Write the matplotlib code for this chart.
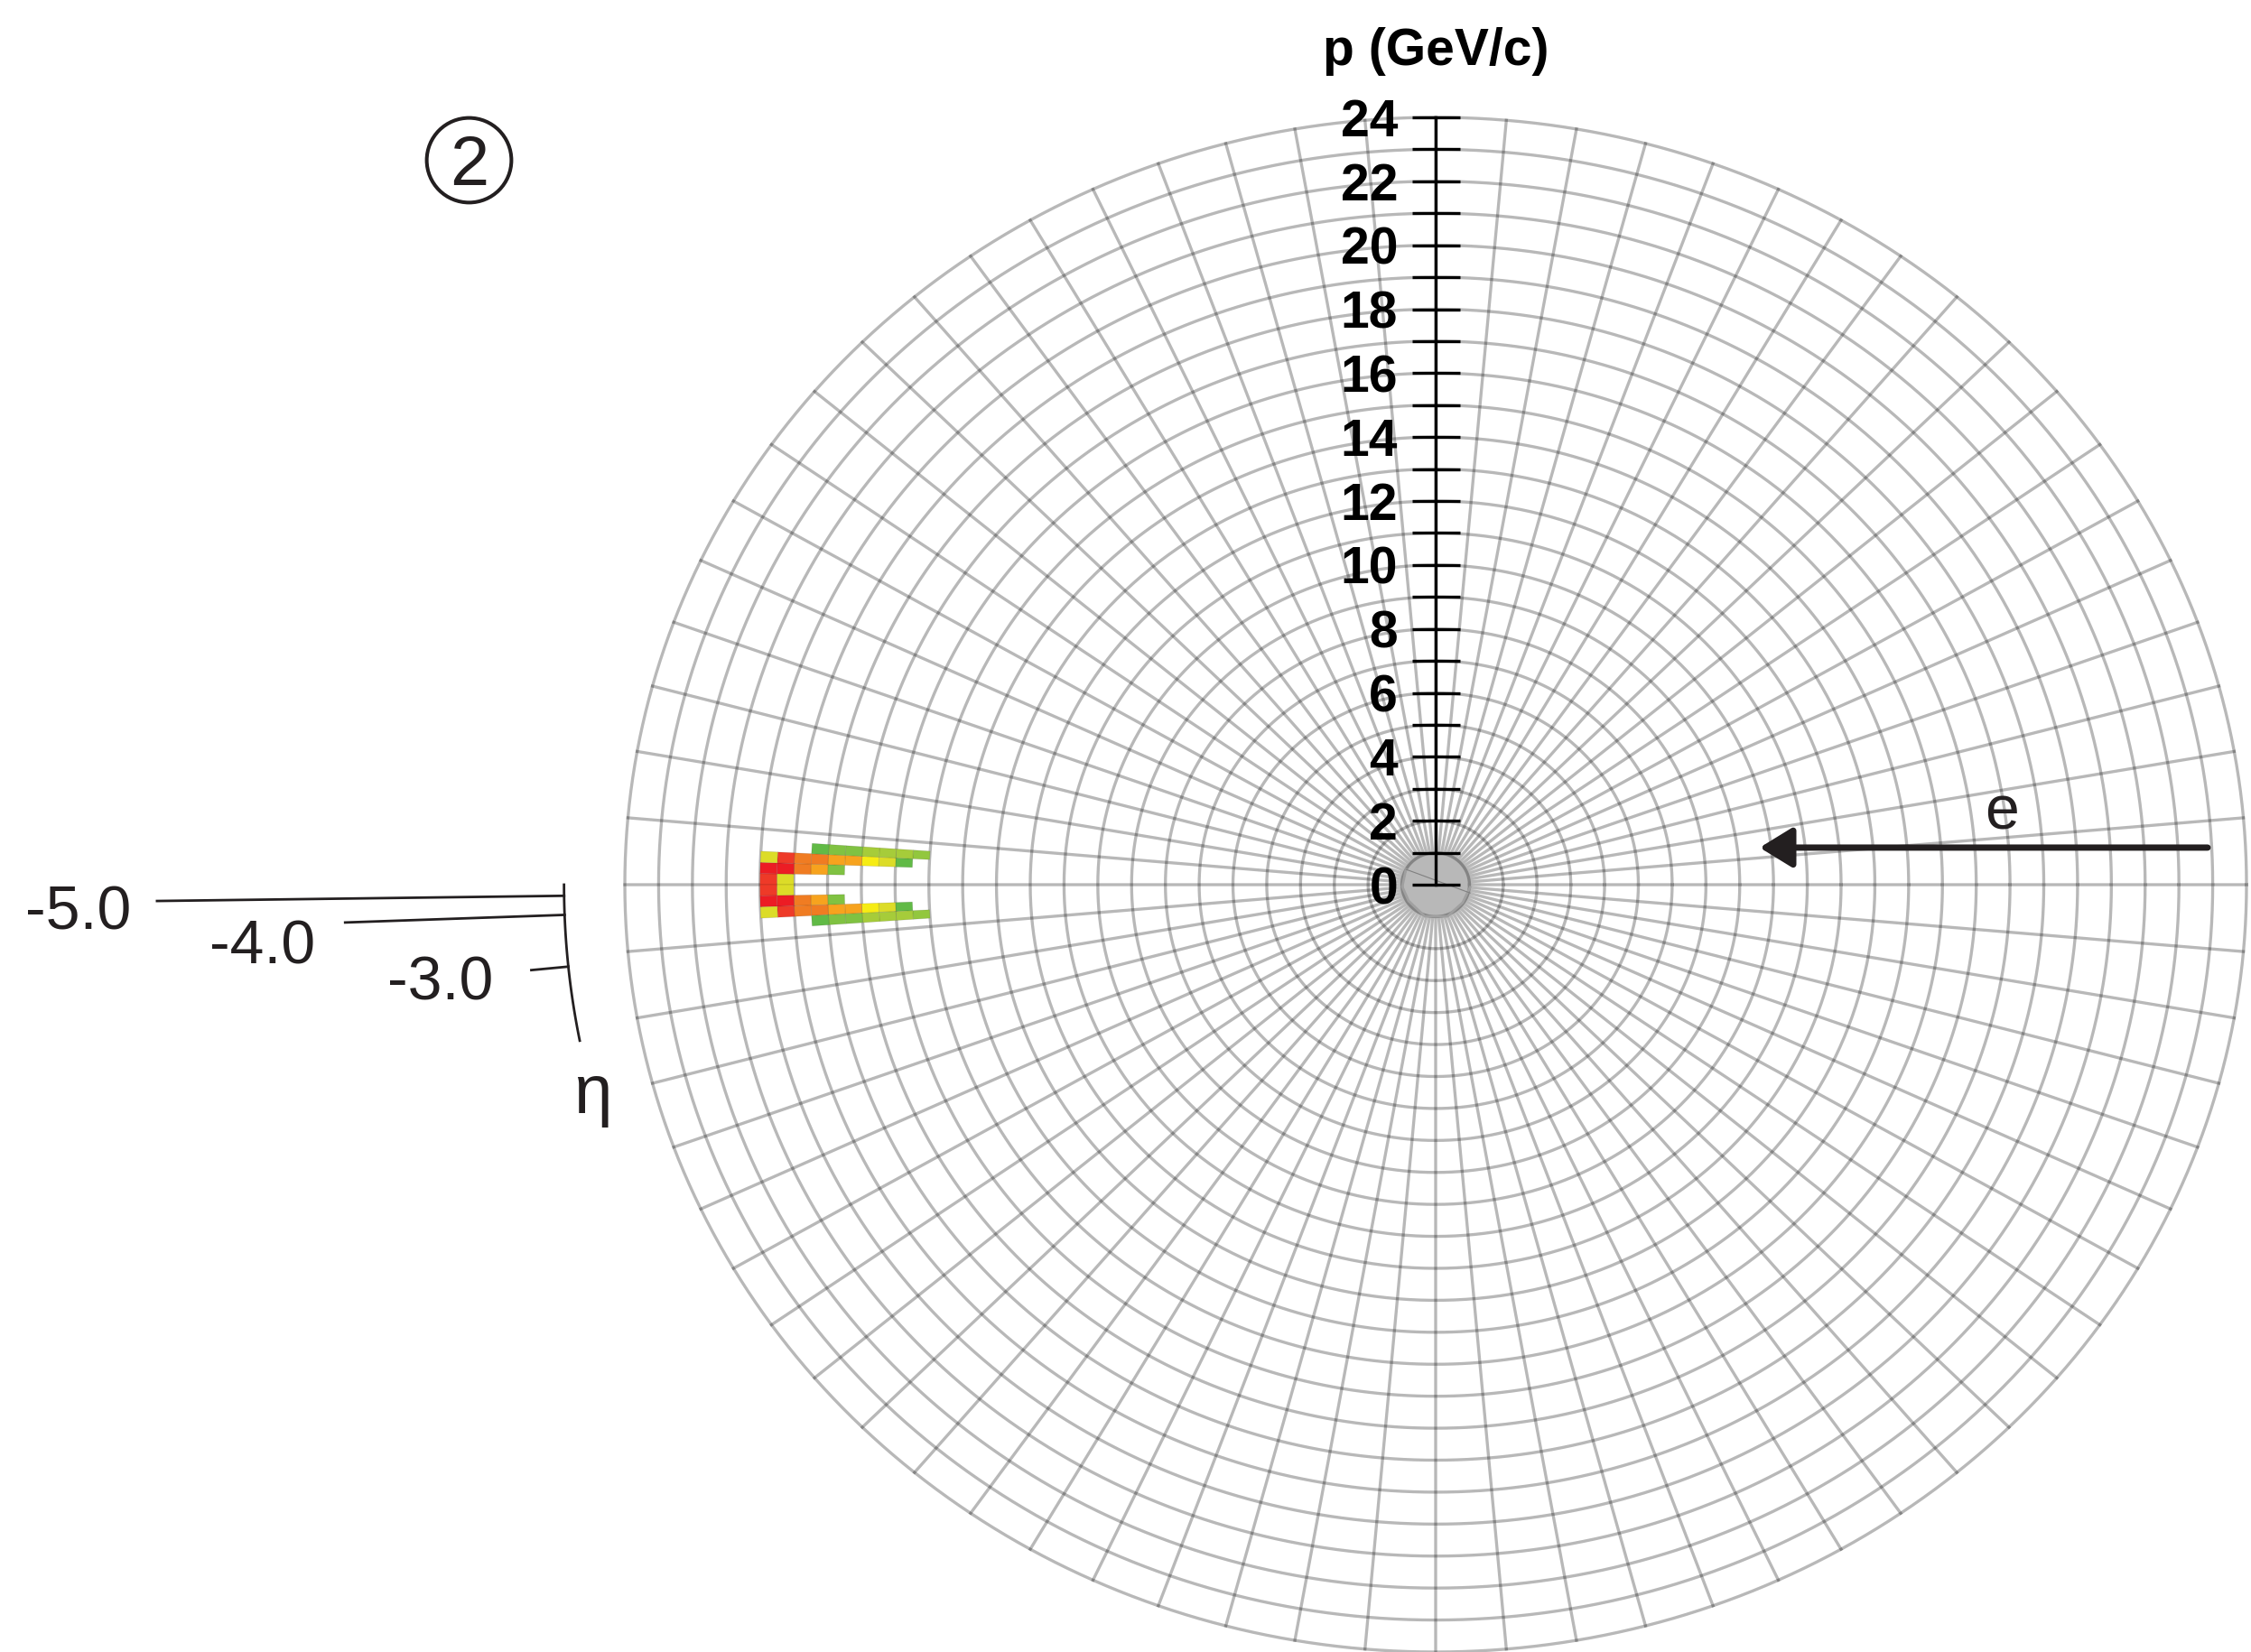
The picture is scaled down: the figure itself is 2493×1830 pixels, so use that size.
import numpy as np
import matplotlib.pyplot as plt
from matplotlib.colors import LinearSegmentedColormap
from matplotlib.collections import PolyCollection

plt.rcParams['font.family'] = ['Liberation Sans', 'DejaVu Sans']

# --- DADOS ---
# bordas das celulas: momento (GeV/c) e angulo polar medido a partir do feixe (graus)
p_bordas = [15.0, 15.5, 16.0, 16.5, 17.0, 17.5, 18.0, 18.5, 19.0, 19.5, 20.0]
theta_bordas = [0.0, 1.0, 2.0, 3.0, 4.0]

# densidade relativa (linhas = faixas de theta, colunas = faixas de p, 15 -> 20)
densidade = [
    [np.nan, np.nan, np.nan, np.nan, np.nan, np.nan, np.nan, np.nan, 0.45, 0.90],
    [np.nan, np.nan, np.nan, np.nan, np.nan, 0.15, 0.68, 0.80, 1.00, 1.00],
    [np.nan, 0.02, 0.45, 0.55, 0.68, 0.68, 0.80, 0.80, 0.90, 0.45],
    [0.22, 0.30, 0.30, 0.30, 0.15, 0.15, 0.02, np.nan, np.nan, np.nan],
]

p_ticks = list(range(0, 25))
p_rotulos = [0, 2, 4, 6, 8, 10, 12, 14, 16, 18, 20, 22, 24]
raios_grade = list(range(1, 25))
angulos_grade = list(range(0, 360, 5))

eta_valores = [-5.0, -4.0, -3.0]
eta_rotulos = ['-5.0', '-4.0', '-3.0']

# contorno cinza pequeno perto da origem (x, y em GeV/c)
contorno_x = [-0.88, -0.99, -0.80, -0.32, 0.35, 0.80, 1.02]
contorno_y = [0.48, -0.06, -0.51, -0.99, -0.99, -0.56, -0.08]

cores_mapa = [(0.00, '#5cb947'), (0.15, '#80c242'), (0.30, '#a6cc3a'),
              (0.45, '#dcdc28'), (0.55, '#f6ec14'), (0.68, '#f7a41e'),
              (0.80, '#f07c22'), (0.90, '#ee3b28'), (1.00, '#ec1c24')]
cmap = LinearSegmentedColormap.from_list('verde_vermelho', cores_mapa)

TINTA = '#231f20'


def polar_xy(ang_graus, r):
    a = np.radians(ang_graus)
    return r * np.cos(a), r * np.sin(a)


def desenhar_grade(ax):
    t = np.linspace(0, 360, 721)
    xs, ys = [], []
    for r in raios_grade:
        x, y = polar_xy(t, r)
        xs += list(x) + [np.nan]
        ys += list(y) + [np.nan]
    ax.plot(xs, ys, color='k', alpha=0.28, lw=2.4, clip_on=False, zorder=1)

    xs, ys = [], []
    for a in angulos_grade:
        x, y = polar_xy(a, np.array([0.0, 24.0]))
        xs += list(x) + [np.nan]
        ys += list(y) + [np.nan]
    ax.plot(xs, ys, color='k', alpha=0.28, lw=2.4, clip_on=False, zorder=1)


def desenhar_celulas(ax):
    dens = np.array(densidade)
    polys, vals = [], []
    # metade de cima e metade de baixo (espelhada)
    for sinal in (-1, 1):
        for i in range(len(theta_bordas) - 1):
            for j in range(len(p_bordas) - 1):
                if np.isnan(dens[i, j]):
                    continue
                t0 = 180 + sinal * theta_bordas[i]
                t1 = 180 + sinal * theta_bordas[i + 1]
                p0, p1 = p_bordas[j], p_bordas[j + 1]
                cantos = [polar_xy(t0, p0), polar_xy(t0, p1),
                          polar_xy(t1, p1), polar_xy(t1, p0)]
                polys.append(cantos)
                vals.append(dens[i, j])
    pc = PolyCollection(polys, cmap=cmap, edgecolors=(0, 0, 0, 0.12),
                        linewidths=0.6, zorder=3)
    pc.set_array(np.array(vals))
    pc.set_clim(0, 1)
    ax.add_collection(pc)


def desenhar_eixo_p(ax):
    ax.plot([0, 0], [0, 24], color='k', lw=2.4, zorder=5, clip_on=False)
    ax.hlines(p_ticks, -0.69, 0.73, color='k', lw=2.4, zorder=5, clip_on=False)
    for v in p_rotulos:
        ax.text(-1.12, v - 0.17, str(v), ha='right', va='center', fontsize=41,
                fontweight='bold', zorder=6)
    ax.text(0, 25.65, 'p (GeV/c)', ha='center', va='baseline', fontsize=41,
            fontweight='bold', clip_on=False)


def desenhar_eta(ax):
    # arco da escala de eta
    a = np.linspace(180, 190.9, 60)
    x, y = polar_xy(a, 25.8)
    ax.plot(x, y, color=TINTA, lw=2.0, clip_on=False)
    r_fim = [37.85, 32.3, 26.9]
    pos_rot = [(-40.19, -1.41), (-34.74, -2.46), (-29.45, -3.59)]
    for eta, rf, rot, (tx, ty) in zip(eta_valores, r_fim, eta_rotulos, pos_rot):
        th = np.degrees(2 * np.arctan(np.exp(eta)))
        x, y = polar_xy(180 + th, np.array([25.8, rf]))
        ax.plot(x, y, color=TINTA, lw=2.0, clip_on=False)
        ax.text(tx, ty, rot, ha='center', va='baseline', fontsize=49,
                color=TINTA, clip_on=False)
    ax.text(-24.96, -7.15, '\u03b7', ha='center', va='baseline', fontsize=55,
            color=TINTA, clip_on=False)


def plot_cena():
    fig = plt.figure(figsize=(24.93, 18.30), dpi=100)
    ax = fig.add_axes([0.27758, 0.0, 0.72042, 0.92896])
    ax.set_xlim(-24, 24)
    ax.set_ylim(-24, 24)
    ax.axis('off')

    desenhar_grade(ax)
    desenhar_celulas(ax)

    # contorno pequeno no centro
    ax.plot(contorno_x, contorno_y, color='#a0a0a0', lw=2.0, zorder=4)
    ax.plot([contorno_x[0], 1.02], [contorno_y[0], -0.26], color='#808080',
            lw=0.8, zorder=4)

    desenhar_eixo_p(ax)
    desenhar_eta(ax)

    # feixe de eletrons
    ax.annotate('', xy=(9.59, 1.16), xytext=(22.85, 1.16),
                arrowprops=dict(arrowstyle='-|>,head_length=0.44,head_width=0.27',
                                mutation_scale=50, lw=5, color=TINTA,
                                shrinkA=0, shrinkB=0), zorder=6)
    ax.text(16.76, 1.75, 'e', ha='center', va='baseline', fontsize=49,
            color=TINTA)

    # numero do painel
    ax.plot([-28.62], [22.66], marker='o', ms=67.5, mfc='none', mec=TINTA,
            mew=2.9, clip_on=False)
    ax.text(-28.6, 21.89, '2', ha='center', va='baseline', fontsize=56,
            color=TINTA, clip_on=False)

    fig.savefig('out.png', dpi=100)


if __name__ == "__main__":
    plot_cena()
